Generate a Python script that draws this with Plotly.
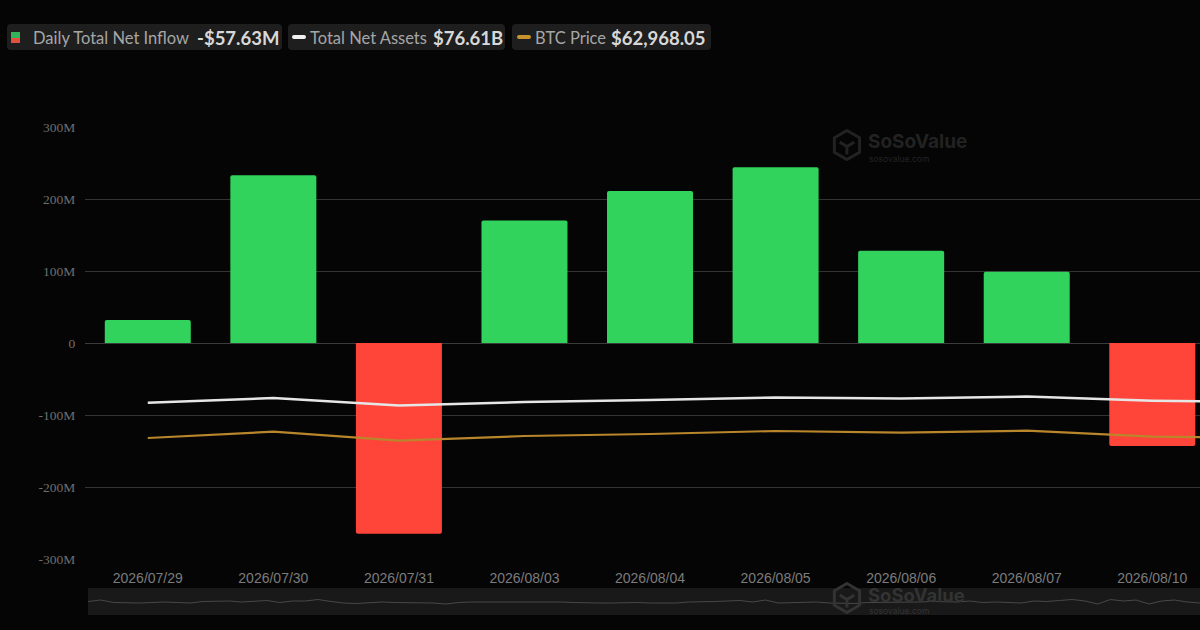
import plotly.graph_objects as go

# dates, the last one sits past the right edge of the crop
dates = ['2026/07/29', '2026/07/30', '2026/07/31', '2026/08/03', '2026/08/04',
         '2026/08/05', '2026/08/06', '2026/08/07', '2026/08/10', '2026/08/11']
tick_labels = dates[:9]

# daily net inflow in USD millions
inflow = [32, 233, -265, 170, 211, 244, 128, 99, -143, -57.63]
# total net assets in USD billions
assets = [76.50, 77.54, 75.88, 76.65, 77.10, 77.65, 77.43, 77.88, 76.94, 76.61]
# btc price in USD
btc = [62970, 64120, 62475, 63330, 63700, 64250, 63940, 64300, 63206, 62968.05]

# thumbnail line in the zoom bar under the chart, read by eye
overview = [13.5, 15, 12.5, 12, 12, 12.5, 13, 12.5, 12, 13.5, 14, 14, 13, 13.5, 14.5, 12.5,
            14, 14, 15.5, 13.5, 12, 11.5, 12.5, 13, 12.5, 12.5, 12, 12, 11, 12.5, 13, 13,
            13, 13, 13, 13.5, 13, 13, 12.5, 12, 12, 12, 12.5, 12.5, 12, 12, 12, 13, 13,
            13.5, 14, 14.5, 13, 15, 12, 12.5, 12.5, 13, 12, 12, 11.5, 12.5, 12.5, 13,
            13, 13, 13.5, 13, 13, 14, 12.5, 13, 12.5, 12, 14, 13.5, 14.5, 15.5, 14, 11,
            15.5, 14, 15, 11, 14, 15, 13, 12]

GREEN = '#32d35c'
RED = '#ff453a'
WIDTH, HEIGHT = 1200, 630


def px(x):
    return x / WIDTH


def py(y):
    return 1 - y / HEIGHT


def hexagon(cx, cy, r, color):
    # sosovalue cube logo
    pts = [(cx, cy - r), (cx + r * .87, cy - r / 2), (cx + r * .87, cy + r / 2),
           (cx, cy + r), (cx - r * .87, cy + r / 2), (cx - r * .87, cy - r / 2)]
    path = 'M ' + ' L '.join(f'{px(a):.4f} {py(b):.4f}' for a, b in pts) + ' Z'
    inner = (f'M {px(cx - r * .5):.4f} {py(cy - r * .2):.4f} L {px(cx):.4f} {py(cy + r * .1):.4f} '
             f'L {px(cx + r * .5):.4f} {py(cy - r * .2):.4f} M {px(cx):.4f} {py(cy + r * .1):.4f} '
             f'L {px(cx):.4f} {py(cy + r * .65):.4f}')
    return [dict(type='path', path=path, xref='paper', yref='paper', line=dict(color=color, width=3)),
            dict(type='path', path=inner, xref='paper', yref='paper', line=dict(color=color, width=3))]


def rect(x0, y0, x1, y1, color, radius=0):
    if radius == 0:
        return dict(type='rect', xref='paper', yref='paper', x0=px(x0), x1=px(x1), y0=py(y0), y1=py(y1),
                    fillcolor=color, line_width=0, layer='below')
    path = (f'M {px(x0 + radius)} {py(y0)} L {px(x1 - radius)} {py(y0)} Q {px(x1)} {py(y0)} {px(x1)} {py(y0 + radius)} '
            f'L {px(x1)} {py(y1 - radius)} Q {px(x1)} {py(y1)} {px(x1 - radius)} {py(y1)} '
            f'L {px(x0 + radius)} {py(y1)} Q {px(x0)} {py(y1)} {px(x0)} {py(y1 - radius)} '
            f'L {px(x0)} {py(y0 + radius)} Q {px(x0)} {py(y0)} {px(x0 + radius)} {py(y0)} Z')
    return dict(type='path', path=path, xref='paper', yref='paper', fillcolor=color, line_width=0, layer='below')


def label(x, y, text, size, color, family='Lato', anchor='left'):
    return dict(x=px(x), y=py(y), xref='paper', yref='paper', text=text, showarrow=False,
                xanchor=anchor, yanchor='middle', font=dict(size=size, color=color, family=family),
                borderpad=0, borderwidth=0)


fig = go.Figure()

fig.add_trace(go.Bar(x=dates, y=inflow, width=0.685, marker_line_width=0,
                     marker_color=[GREEN if v >= 0 else RED for v in inflow], yaxis='y'))
fig.add_trace(go.Scatter(x=dates, y=assets, mode='lines', line=dict(color='#e6e6e6', width=2.5), yaxis='y2'))
fig.add_trace(go.Scatter(x=dates, y=btc, mode='lines', line=dict(color='#b9862c', width=2.2), yaxis='y3'))
fig.add_trace(go.Scatter(y=overview, mode='lines', line=dict(color='#484848', width=1), xaxis='x2', yaxis='y4'))

shapes = [
    rect(7, 24, 282, 50, '#1e1e1e', 4), rect(288, 24, 505, 50, '#1e1e1e', 4), rect(512, 24, 711, 50, '#1e1e1e', 4),
    rect(11, 32, 20, 38, '#32b45a'), rect(11, 38, 20, 43, '#e0503f'),
    rect(292, 35, 306, 39, '#f0f0f0', 2), rect(517, 35, 531, 39, '#c8932e', 2),
    rect(88, 588, 1200, 615, '#191919'),
]
shapes += hexagon(847, 145, 14.5, '#222222') + hexagon(847, 598, 14.5, '#333333')

annotations = [
    label(33, 37.5, 'Daily Total Net Inflow', 16.5, '#a6a6a6'),
    label(197, 37.5, '<b>-$57.63M</b>', 18.5, '#d8d8d8'),
    label(310, 37.5, 'Total Net Assets', 16.5, '#a6a6a6'),
    label(433, 37.5, '<b>$76.61B</b>', 18.5, '#d8d8d8'),
    label(535, 37.5, 'BTC Price', 16.5, '#a6a6a6'),
    label(611, 37.5, '<b>$62,968.05</b>', 18.5, '#d8d8d8'),
    label(868, 141, '<b>SoSoValue</b>', 19, '#222222', 'Inter'),
    label(869, 158.5, 'sosovalue.com', 8.5, '#222222', 'Inter'),
    label(868, 595, '<b>SoSoValue</b>', 18.5, '#333333', 'Inter'),
    label(869, 611, 'sosovalue.com', 8.5, '#333333', 'Inter'),
]

fig.update_layout(
    width=WIDTH, height=HEIGHT,
    margin=dict(l=0, r=0, t=0, b=0, autoexpand=False),
    paper_bgcolor='#050505', plot_bgcolor='#050505',
    showlegend=False, shapes=shapes, annotations=annotations,
    barcornerradius=2,
    xaxis=dict(domain=[px(85), 1], type='category', categoryorder='array', categoryarray=dates,
               range=[-0.5, 8.38], tickmode='array', tickvals=tick_labels, ticktext=tick_labels,
               showgrid=False, zeroline=False, showline=False, ticks='outside', ticklen=6,
               tickcolor='rgba(0,0,0,0)', tickfont=dict(size=14, color='#7c7c7c', family='Liberation Sans')),
    yaxis=dict(domain=[py(559), py(127)], range=[-300, 300], tickmode='array',
               tickvals=[-300, -200, -100, 0, 100, 200, 300],
               ticktext=['-300M', '-200M', '-100M', '0', '100M', '200M', '300M'],
               gridcolor='#333333', gridwidth=1.2, zeroline=True, zerolinecolor='#3c3c3c', zerolinewidth=1.2,
               ticks='outside', ticklen=6, tickcolor='rgba(0,0,0,0)',
               tickfont=dict(size=13.5, color='#6e6e6e', family='Liberation Serif')),
    # net assets and price sit on their own hidden scales
    yaxis2=dict(overlaying='y', range=[41.77, 137.77], visible=False),
    yaxis3=dict(overlaying='y', range=[40848, 119824], visible=False),
    xaxis2=dict(domain=[px(88), 1], anchor='y4', visible=False, range=[0, len(overview) - 1]),
    yaxis4=dict(domain=[py(615), py(588)], anchor='x2', range=[0, 27], visible=False),
)

# page margin would push the figure 8px off the photo
fig.write_html("out.html", config=dict(displayModeBar=False),
               post_script="document.body.style.margin='0';document.body.style.background='#050505';")
